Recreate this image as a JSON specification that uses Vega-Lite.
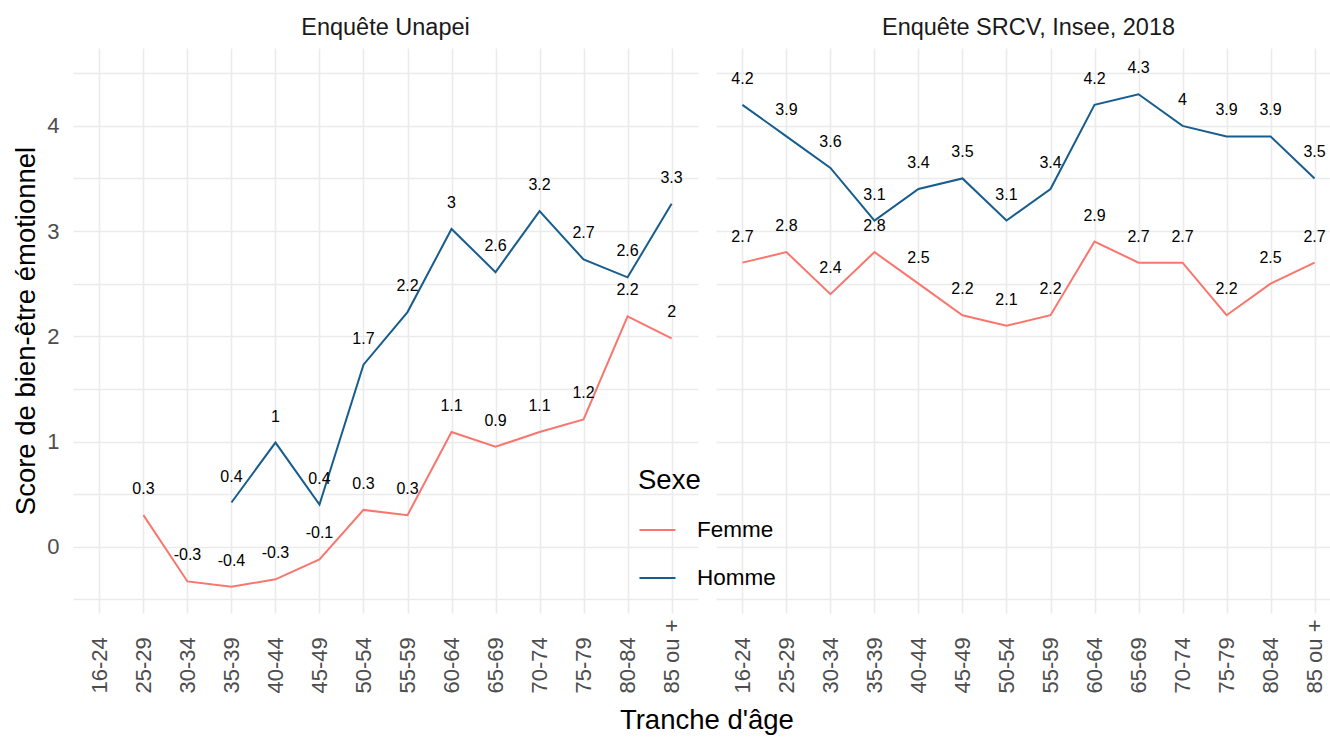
{
  "$schema": "https://vega.github.io/schema/vega-lite/v6.json",
  "padding": {"left": 12, "top": 15, "right": 0, "bottom": 0},
  "background": "white",
  "config": {
    "font": "Liberation Sans",
    "view": {"stroke": null},
    "locale": {"number": {"decimal": ".", "thousands": ",", "grouping": [3], "currency": ["$", ""], "minus": "-"}},
    "axis": {"gridColor": "#ebebeb", "gridWidth": 1.6, "domain": false, "ticks": false, "labelColor": "#4d4d4d", "labelFontSize": 22, "titleFontSize": 27.5, "titleColor": "#000000", "titleFontWeight": "normal"},
    "header": {"labelFontSize": 23.5, "labelColor": "#1a1a1a", "labelPadding": 9}
  },
  "title": {"text": "Tranche d'âge", "orient": "bottom", "anchor": "middle", "fontSize": 27.5, "fontWeight": "normal", "color": "#000000", "offset": 14, "dx": 30},
  "data": {"values": [
    {"enquete": "Enquête Unapei", "tranche": "25-29", "sexe": "Femme", "score": 0.30},
    {"enquete": "Enquête Unapei", "tranche": "30-34", "sexe": "Femme", "score": -0.33},
    {"enquete": "Enquête Unapei", "tranche": "35-39", "sexe": "Femme", "score": -0.38},
    {"enquete": "Enquête Unapei", "tranche": "40-44", "sexe": "Femme", "score": -0.31},
    {"enquete": "Enquête Unapei", "tranche": "45-49", "sexe": "Femme", "score": -0.12},
    {"enquete": "Enquête Unapei", "tranche": "50-54", "sexe": "Femme", "score": 0.35},
    {"enquete": "Enquête Unapei", "tranche": "55-59", "sexe": "Femme", "score": 0.30},
    {"enquete": "Enquête Unapei", "tranche": "60-64", "sexe": "Femme", "score": 1.09},
    {"enquete": "Enquête Unapei", "tranche": "65-69", "sexe": "Femme", "score": 0.95},
    {"enquete": "Enquête Unapei", "tranche": "70-74", "sexe": "Femme", "score": 1.09},
    {"enquete": "Enquête Unapei", "tranche": "75-79", "sexe": "Femme", "score": 1.21},
    {"enquete": "Enquête Unapei", "tranche": "80-84", "sexe": "Femme", "score": 2.19},
    {"enquete": "Enquête Unapei", "tranche": "85 ou +", "sexe": "Femme", "score": 1.98},
    {"enquete": "Enquête Unapei", "tranche": "35-39", "sexe": "Homme", "score": 0.42},
    {"enquete": "Enquête Unapei", "tranche": "40-44", "sexe": "Homme", "score": 0.99},
    {"enquete": "Enquête Unapei", "tranche": "45-49", "sexe": "Homme", "score": 0.40},
    {"enquete": "Enquête Unapei", "tranche": "50-54", "sexe": "Homme", "score": 1.73},
    {"enquete": "Enquête Unapei", "tranche": "55-59", "sexe": "Homme", "score": 2.23},
    {"enquete": "Enquête Unapei", "tranche": "60-64", "sexe": "Homme", "score": 3.02},
    {"enquete": "Enquête Unapei", "tranche": "65-69", "sexe": "Homme", "score": 2.61},
    {"enquete": "Enquête Unapei", "tranche": "70-74", "sexe": "Homme", "score": 3.19},
    {"enquete": "Enquête Unapei", "tranche": "75-79", "sexe": "Homme", "score": 2.73},
    {"enquete": "Enquête Unapei", "tranche": "80-84", "sexe": "Homme", "score": 2.56},
    {"enquete": "Enquête Unapei", "tranche": "85 ou +", "sexe": "Homme", "score": 3.26},
    {"enquete": "Enquête SRCV, Insee, 2018", "tranche": "16-24", "sexe": "Femme", "score": 2.7},
    {"enquete": "Enquête SRCV, Insee, 2018", "tranche": "25-29", "sexe": "Femme", "score": 2.8},
    {"enquete": "Enquête SRCV, Insee, 2018", "tranche": "30-34", "sexe": "Femme", "score": 2.4},
    {"enquete": "Enquête SRCV, Insee, 2018", "tranche": "35-39", "sexe": "Femme", "score": 2.8},
    {"enquete": "Enquête SRCV, Insee, 2018", "tranche": "40-44", "sexe": "Femme", "score": 2.5},
    {"enquete": "Enquête SRCV, Insee, 2018", "tranche": "45-49", "sexe": "Femme", "score": 2.2},
    {"enquete": "Enquête SRCV, Insee, 2018", "tranche": "50-54", "sexe": "Femme", "score": 2.1},
    {"enquete": "Enquête SRCV, Insee, 2018", "tranche": "55-59", "sexe": "Femme", "score": 2.2},
    {"enquete": "Enquête SRCV, Insee, 2018", "tranche": "60-64", "sexe": "Femme", "score": 2.9},
    {"enquete": "Enquête SRCV, Insee, 2018", "tranche": "65-69", "sexe": "Femme", "score": 2.7},
    {"enquete": "Enquête SRCV, Insee, 2018", "tranche": "70-74", "sexe": "Femme", "score": 2.7},
    {"enquete": "Enquête SRCV, Insee, 2018", "tranche": "75-79", "sexe": "Femme", "score": 2.2},
    {"enquete": "Enquête SRCV, Insee, 2018", "tranche": "80-84", "sexe": "Femme", "score": 2.5},
    {"enquete": "Enquête SRCV, Insee, 2018", "tranche": "85 ou +", "sexe": "Femme", "score": 2.7},
    {"enquete": "Enquête SRCV, Insee, 2018", "tranche": "16-24", "sexe": "Homme", "score": 4.2},
    {"enquete": "Enquête SRCV, Insee, 2018", "tranche": "25-29", "sexe": "Homme", "score": 3.9},
    {"enquete": "Enquête SRCV, Insee, 2018", "tranche": "30-34", "sexe": "Homme", "score": 3.6},
    {"enquete": "Enquête SRCV, Insee, 2018", "tranche": "35-39", "sexe": "Homme", "score": 3.1},
    {"enquete": "Enquête SRCV, Insee, 2018", "tranche": "40-44", "sexe": "Homme", "score": 3.4},
    {"enquete": "Enquête SRCV, Insee, 2018", "tranche": "45-49", "sexe": "Homme", "score": 3.5},
    {"enquete": "Enquête SRCV, Insee, 2018", "tranche": "50-54", "sexe": "Homme", "score": 3.1},
    {"enquete": "Enquête SRCV, Insee, 2018", "tranche": "55-59", "sexe": "Homme", "score": 3.4},
    {"enquete": "Enquête SRCV, Insee, 2018", "tranche": "60-64", "sexe": "Homme", "score": 4.2},
    {"enquete": "Enquête SRCV, Insee, 2018", "tranche": "65-69", "sexe": "Homme", "score": 4.3},
    {"enquete": "Enquête SRCV, Insee, 2018", "tranche": "70-74", "sexe": "Homme", "score": 4.0},
    {"enquete": "Enquête SRCV, Insee, 2018", "tranche": "75-79", "sexe": "Homme", "score": 3.9},
    {"enquete": "Enquête SRCV, Insee, 2018", "tranche": "80-84", "sexe": "Homme", "score": 3.9},
    {"enquete": "Enquête SRCV, Insee, 2018", "tranche": "85 ou +", "sexe": "Homme", "score": 3.5}
  ]},
  "facet": {
    "column": {"field": "enquete", "type": "nominal", "sort": ["Enquête Unapei", "Enquête SRCV, Insee, 2018"], "title": null}
  },
  "spacing": 18,
  "spec": {
    "width": 625,
    "height": 565,
    "encoding": {
      "x": {"field": "tranche", "type": "ordinal",
        "scale": {"type": "point", "padding": 0.6, "domain": ["16-24", "25-29", "30-34", "35-39", "40-44", "45-49", "50-54", "55-59", "60-64", "65-69", "70-74", "75-79", "80-84", "85 ou +"]},
        "axis": {"title": null, "grid": true, "labelAngle": -90, "labelPadding": 80, "labelAlign": "left", "labelBaseline": "middle"}},
      "y": {"field": "score", "type": "quantitative",
        "scale": {"domain": [-0.63, 4.74], "nice": false, "zero": false},
        "axis": {"title": "Score de bien-être émotionnel", "format": "~g", "values": [-0.5, 0, 0.5, 1, 1.5, 2, 2.5, 3, 3.5, 4, 4.5], "labelExpr": "datum.value % 1 == 0 ? datum.label : ''", "labelPadding": 14, "titlePadding": 6}}
    },
    "layer": [
      {
        "mark": {"type": "line", "strokeWidth": 2},
        "encoding": {
          "color": {"field": "sexe", "type": "nominal",
            "scale": {"domain": ["Femme", "Homme"], "range": ["#F8766D", "#175d8d"]},
            "legend": {"title": "Sexe", "orient": "none", "legendX": 565, "legendY": 419, "titleFontSize": 27.5, "titleFontWeight": "normal", "titleColor": "#000000", "titlePadding": 16, "labelFontSize": 22.5, "labelColor": "#000000", "labelOffset": 20, "symbolType": "stroke", "symbolStrokeWidth": 2, "symbolSize": 1300, "rowPadding": 17}
          }
        }
      },
      {
        "mark": {"type": "text", "dy": -26, "fontSize": 16, "color": "#000000"},
        "encoding": {
          "text": {"field": "score", "type": "quantitative", "format": ".1~f"},
          "detail": {"field": "sexe", "type": "nominal"}
        }
      }
    ]
  }
}
